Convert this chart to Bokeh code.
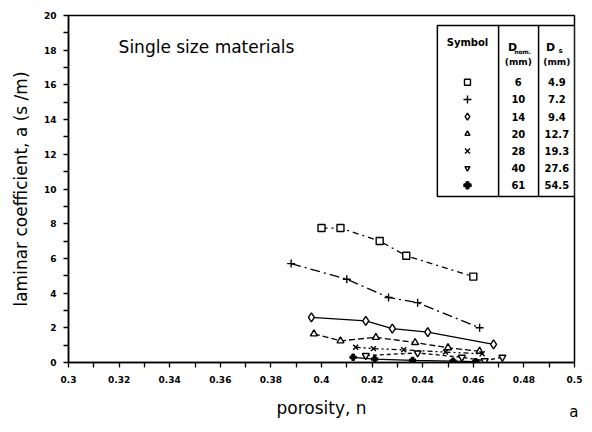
from bokeh.plotting import figure
from bokeh.models import (Range1d, FixedTicker, CustomJSTickFormatter, Title)
from bokeh.core.properties import value
from bokeh.embed import file_html
from bokeh.resources import INLINE

# ---- measured laminar coefficient a (s/m) versus porosity n ----
porosity_d6 = [0.400, 0.4075, 0.423, 0.4335, 0.460]
coeff_d6 = [7.75, 7.75, 7.0, 6.15, 4.95]

porosity_d10 = [0.388, 0.410, 0.4265, 0.438, 0.4625]
coeff_d10 = [5.7, 4.8, 3.75, 3.45, 2.0]

porosity_d14 = [0.396, 0.4175, 0.428, 0.442, 0.468]
coeff_d14 = [2.6, 2.4, 1.95, 1.75, 1.05]

porosity_d20 = [0.397, 0.4075, 0.4215, 0.437, 0.450, 0.4625]
coeff_d20 = [1.65, 1.25, 1.45, 1.15, 0.85, 0.65]

porosity_d28 = [0.4135, 0.4205, 0.4325, 0.449, 0.4635]
coeff_d28 = [0.88, 0.8, 0.73, 0.6, 0.5]

porosity_d40 = [0.4175, 0.438, 0.4555, 0.4645, 0.4715]
coeff_d40 = [0.4, 0.55, 0.3, 0.1, 0.3]

porosity_d61 = [0.4125, 0.421, 0.436, 0.452, 0.461]
coeff_d61 = [0.3, 0.2, 0.12, 0.08, 0.05]

# nominal and effective grain sizes listed in the key table
d_nom = ["6", "10", "14", "20", "28", "40", "61"]
d_s = ["4.9", "7.2", "9.4", "12.7", "19.3", "27.6", "54.5"]

# tick positions
x_major = [0.3, 0.32, 0.34, 0.36, 0.38, 0.4, 0.42, 0.44, 0.46, 0.48, 0.5]
x_minor = [0.31, 0.33, 0.35, 0.37, 0.39, 0.41, 0.43, 0.45, 0.47, 0.49]
y_major = [0, 2, 4, 6, 8, 10, 12, 14, 16, 18, 20]
y_minor = [1, 3, 5, 7, 9, 11, 13, 15, 17, 19]

FONT = "DejaVu Sans"

p = figure(width=592, height=432, output_backend="svg", toolbar_location=None,
           x_range=Range1d(0.3, 0.5), y_range=Range1d(0, 20),
           min_border_left=68, min_border_right=18, min_border_top=15,
           min_border_bottom=70)
p.background_fill_color = "white"
p.border_fill_color = "white"
p.outline_line_color = "black"
p.outline_line_width = 1.5
p.xgrid.visible = False
p.ygrid.visible = False

p.xaxis.ticker = FixedTicker(ticks=x_major, minor_ticks=x_minor)
p.yaxis.ticker = FixedTicker(ticks=y_major, minor_ticks=y_minor)
p.xaxis.formatter = CustomJSTickFormatter(code="return String(Number(tick.toFixed(2)));")
p.yaxis.formatter = CustomJSTickFormatter(code="return String(Math.round(tick));")

for ax in (p.xaxis, p.yaxis):
    ax.axis_line_width = 1.5
    ax.axis_line_color = "black"
    ax.major_tick_in = 0
    ax.major_tick_out = 5
    ax.minor_tick_in = 0
    ax.minor_tick_out = 5
    ax.major_tick_line_width = 1.3
    ax.minor_tick_line_width = 1.3
    ax.major_label_text_font = FONT
    ax.major_label_text_font_style = "bold"
    ax.major_label_text_font_size = "9px"
    ax.major_label_text_color = "black"
    ax.axis_label_text_font = FONT
    ax.axis_label_text_font_style = "normal"
    ax.axis_label_text_color = "black"

p.xaxis.axis_label = "porosity, n"
p.xaxis.axis_label_text_font_size = "17px"
p.xaxis.major_label_standoff = 8
p.xaxis.axis_label_standoff = 12
p.yaxis.axis_label = "laminar coefficient, a (s /m)"
p.yaxis.axis_label_text_font_size = "17px"
p.yaxis.major_label_standoff = 7
p.yaxis.axis_label_standoff = 10

# panel letter at the lower right, level with the axis label
p.add_layout(Title(text="a", align="right", vertical_align="top",
                   text_font=FONT, text_font_size="15px",
                   text_font_style="normal", text_color="black",
                   standoff=-36, offset=-4), "below")

# ---- series ----
series = [
    (porosity_d6, coeff_d6, "square", "6 4 2 4", 7),
    (porosity_d10, coeff_d10, "cross", "10 4 2 4", 8),
    (porosity_d14, coeff_d14, "diamond", "solid", 9),
    (porosity_d20, coeff_d20, "triangle", "6 3", 7),
    (porosity_d28, coeff_d28, "x", "5 3 2 3 2 3", 7),
    (porosity_d40, coeff_d40, "inverted_triangle", "4 3", 7),
    (porosity_d61, coeff_d61, "plus", "solid", 6),
]

for xs, ys, marker, dash, size in series:
    p.line(xs, ys, line_color="black", line_width=1.3, line_dash=dash)
    fill = "black" if marker == "plus" else "white"
    p.scatter(xs, ys, marker=marker, size=size, line_color="black",
              line_width=1.4, fill_color=fill)

# ---- title text inside the frame ----
p.text(x=[0.3198], y=[18.16], text=["Single size materials"],
       text_font=value(FONT), text_font_size="17px", text_color="black",
       text_baseline="middle", text_align="left")

# ---- key table ----
t_left, t_right, t_bottom, t_top = 0.4458, 0.5, 9.57, 19.42
col1, col2 = 0.470, 0.4858
p.quad(left=[t_left], right=[t_right], bottom=[t_bottom], top=[t_top],
       fill_color="white", line_color="black", line_width=1.5)
p.segment(x0=[col1, col2], y0=[t_bottom, t_bottom], x1=[col1, col2],
          y1=[t_top, t_top], line_color="black", line_width=1.5)

sym_x, nom_x, ds_x = 0.4577, 0.4778, 0.4930
p.text(x=[sym_x], y=[18.45], text=["Symbol"], text_font=value(FONT),
       text_font_size="10px", text_font_style="bold", text_align="center",
       text_baseline="middle")
p.text(x=[0.4755, 0.4905], y=[18.15, 18.15], text=["D", "D"],
       text_font=value(FONT), text_font_size="11px", text_font_style="bold",
       text_align="center", text_baseline="middle")
p.text(x=[0.4795], y=[17.95], text=["nom."], text_font=value(FONT),
       text_font_size="6px", text_font_style="bold", text_align="center",
       text_baseline="middle")
p.text(x=[0.4945], y=[17.95], text=["s"], text_font=value(FONT),
       text_font_size="7px", text_font_style="bold", text_align="center",
       text_baseline="middle")
p.text(x=[nom_x, ds_x], y=[17.3, 17.3], text=["(mm)", "(mm)"],
       text_font=value(FONT), text_font_size="9px", text_font_style="bold",
       text_align="center", text_baseline="middle")

row_y = [16.15 - 0.99 * i for i in range(len(d_nom))]
p.text(x=[nom_x] * len(d_nom), y=row_y, text=d_nom, text_font=value(FONT),
       text_font_size="10px", text_font_style="bold", text_align="center",
       text_baseline="middle")
p.text(x=[ds_x] * len(d_s), y=row_y, text=d_s, text_font=value(FONT),
       text_font_size="10px", text_font_style="bold", text_align="center",
       text_baseline="middle")
key_markers = ["square", "cross", "diamond", "triangle", "x",
               "inverted_triangle", "plus"]
key_sizes = [6, 8, 7, 5, 7, 5, 7]
key_fill = ["white", "white", "white", "white", "white", "white", "black"]
p.scatter(x=[sym_x] * len(key_markers), y=row_y, marker=key_markers,
          size=key_sizes, fill_color=key_fill, line_color="black",
          line_width=1.4)

open("out.html", "w").write(file_html(p, INLINE))
